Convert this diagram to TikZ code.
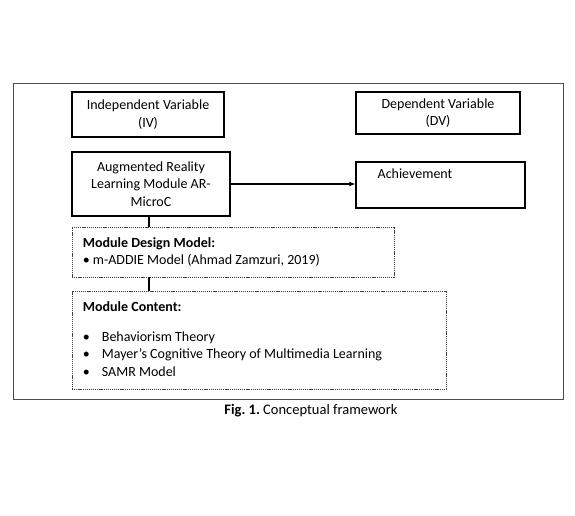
\documentclass[tikz,border=0pt]{standalone}
\usepackage{fontspec}
\setmainfont{Carlito}
\frenchspacing
\begin{document}
\begin{tikzpicture}[x=1pt,y=-1pt,
  txt/.style={font=\fontsize{14}{17.5}\selectfont},
  box/.style={txt,draw,line width=1.1pt,rectangle,align=center,inner sep=0pt},
  dotbox/.style={draw=black!75,line width=0.6pt,dash pattern=on 1.2pt off 0.9pt,
    rectangle,inner sep=0pt}]
\useasboundingbox (0,0) rectangle (575,515);
\draw[black!70,line width=0.9pt] (13,83) rectangle (563,399);
% variable headings
\node[box,minimum width=152pt,minimum height=45pt] (iv) at (148,114.5) {Independent Variable\\(IV)};
\node[box,minimum width=164pt,minimum height=42pt] (dv) at (438,113) {Dependent Variable\\(DV)};
% main boxes
\node[box,minimum width=158pt,minimum height=64pt] (ar) at (151,184) {Augmented Reality\\Learning Module AR-\\MicroC};
\node[box,minimum width=169pt,minimum height=46pt] (ach) at (440.5,185) {};
\node[txt,anchor=north west,inner sep=0pt] (achtext) at ([xshift=22pt,yshift=-7pt]ach.north west) {Achievement};
\draw[line width=1.1pt,-latex] (ar.east) -- (ar.east -| ach.west);
% module design and content
\node[dotbox,minimum width=322pt,minimum height=50pt] (design) at (233,252) {};
\node[txt,align=left,anchor=west,inner sep=0pt] (designtext) at ([xshift=11pt]design.west)
  {\textbf{Module Design Model:}\\\makebox[10pt][l]{\textbullet}m-ADDIE Model (Ahmad Zamzuri, 2019)};
\node[dotbox,minimum width=374pt,minimum height=98pt] (content) at (259,340) {};
\node[txt,align=left,anchor=west,inner sep=0pt] (contenttext) at ([xshift=11pt,yshift=1pt]content.west)
  {\textbf{Module Content:}\\[12pt]
   \makebox[19pt][l]{\textbullet}Behaviorism Theory\\
   \makebox[19pt][l]{\textbullet}Mayer's Cognitive Theory of Multimedia Learning\\
   \makebox[19pt][l]{\textbullet}SAMR Model};
\draw[line width=1.1pt] (ar.south -| 149,0) -- (design.north -| 149,0);
\draw[line width=1.1pt] (design.south -| 149,0) -- (content.north -| 149,0);
\node[txt,font=\fontsize{14.5}{17.5}\selectfont] (cap) at (311,411) {\textbf{Fig. 1.} Conceptual framework};
\end{tikzpicture}
\end{document}
